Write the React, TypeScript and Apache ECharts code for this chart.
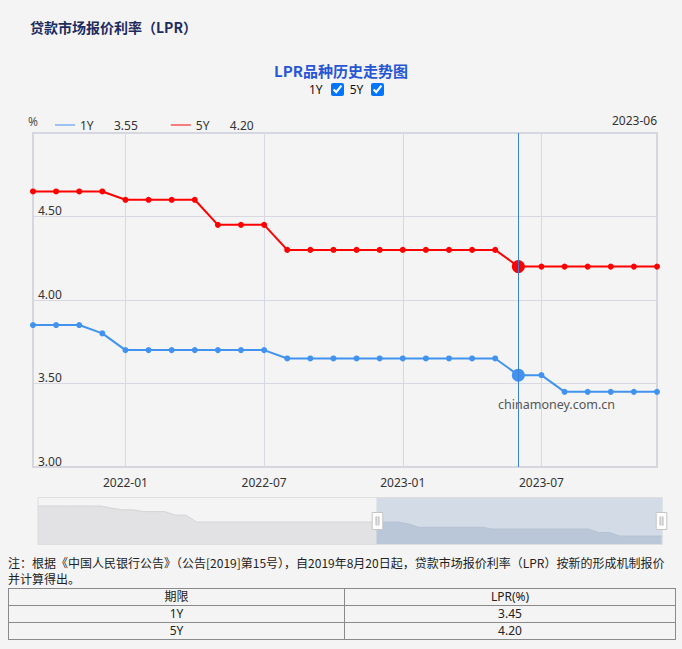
import React, { useEffect, useRef } from "react";
import * as echarts from "echarts";

const categories = [
  "2019-01", "2019-02", "2019-03", "2019-04", "2019-05", "2019-06", "2019-07", "2019-08", "2019-09", "2019-10", "2019-11", "2019-12",
  "2020-01", "2020-02", "2020-03", "2020-04", "2020-05", "2020-06", "2020-07", "2020-08", "2020-09", "2020-10", "2020-11", "2020-12",
  "2021-01", "2021-02", "2021-03", "2021-04", "2021-05", "2021-06", "2021-07", "2021-08", "2021-09", "2021-10", "2021-11", "2021-12",
  "2022-01", "2022-02", "2022-03", "2022-04", "2022-05", "2022-06", "2022-07", "2022-08", "2022-09", "2022-10", "2022-11", "2022-12",
  "2023-01", "2023-02", "2023-03", "2023-04", "2023-05", "2023-06", "2023-07", "2023-08", "2023-09", "2023-10", "2023-11", "2023-12",
];

const oneYear = [
  4.31, 4.31, 4.31, 4.31, 4.31, 4.31, 4.31, 4.25, 4.2, 4.2, 4.15, 4.15,
  4.15, 4.05, 4.05, 3.85, 3.85, 3.85, 3.85, 3.85, 3.85, 3.85, 3.85, 3.85,
  3.85, 3.85, 3.85, 3.85, 3.85, 3.85, 3.85, 3.85, 3.85, 3.85, 3.85, 3.8,
  3.7, 3.7, 3.7, 3.7, 3.7, 3.7, 3.7, 3.65, 3.65, 3.65, 3.65, 3.65,
  3.65, 3.65, 3.65, 3.65, 3.65, 3.55, 3.55, 3.45, 3.45, 3.45, 3.45, 3.45,
];

const fiveYear: (number | string)[] = [
  "-", "-", "-", "-", "-", "-", "-", 4.85, 4.85, 4.85, 4.8, 4.8,
  4.8, 4.75, 4.75, 4.65, 4.65, 4.65, 4.65, 4.65, 4.65, 4.65, 4.65, 4.65,
  4.65, 4.65, 4.65, 4.65, 4.65, 4.65, 4.65, 4.65, 4.65, 4.65, 4.65, 4.65,
  4.6, 4.6, 4.6, 4.6, 4.45, 4.45, 4.45, 4.3, 4.3, 4.3, 4.3, 4.3,
  4.3, 4.3, 4.3, 4.3, 4.3, 4.2, 4.2, 4.2, 4.2, 4.2, 4.2, 4.2,
];

const seriesNames = ["1Y", "5Y"];
const highlightMonth = "2023-06";
const windowStart = "2021-09";
const windowEnd = "2023-12";
const yMin = 3.0;
const yMax = 5.0;
const yStep = 0.5;

const tableHeader = ["期限", "LPR(%)"];
const tableRows = [
  ["1Y", "3.45"],
  ["5Y", "4.20"],
];

const noteLine1 = "注：根据《中国人民银行公告》（公告[2019]第15号），自2019年8月20日起，贷款市场报价利率（LPR）按新的形成机制报价";
const noteLine2 = "并计算得出。";

const BLUE = "#4193ef";
const RED = "#ff0000";
const FONT = "'Noto Sans', 'Noto Sans CJK SC', sans-serif";

export default function App() {
  const ref = useRef<HTMLDivElement>(null);

  useEffect(() => {
    if (!ref.current) return;
    const chart = echarts.init(ref.current, null, { renderer: "svg" });
    const hi = categories.indexOf(highlightMonth);
    const hiValues: Record<string, string> = {
      "1Y": Number(oneYear[hi]).toFixed(2),
      "5Y": Number(fiveYear[hi]).toFixed(2),
    };
    const mark = (arr: (number | string)[]) =>
      arr.map((v, i) => (i === hi ? { value: v, symbolSize: 13 } : v));

    chart.setOption({
      animation: false,
      backgroundColor: "transparent",
      textStyle: { fontFamily: FONT },
      title: {
        text: "LPR品种历史走势图",
        left: "center",
        top: 58,
        textStyle: { color: "#2656d4", fontSize: 15, fontWeight: "bold", fontFamily: "'Noto Sans CJK SC', sans-serif" },
      },
      legend: {
        left: 50,
        top: 114,
        icon: "rect",
        itemWidth: 20,
        itemHeight: 2,
        itemGap: 33,
        data: [
          { name: "1Y", itemStyle: { color: "#9cc3f2" } },
          { name: "5Y", itemStyle: { color: "#f77c7c" } },
        ],
        formatter: (name: string) => `{n|${name}}{v|${hiValues[name]}}`,
        textStyle: {
          color: "#333",
          fontSize: 12,
          rich: {
            n: { width: 34, fontSize: 12, color: "#333", fontFamily: FONT },
            v: { fontSize: 12, color: "#333", fontFamily: FONT },
          },
        },
      },
      graphic: [
        {
          type: "text",
          right: 25,
          top: 114,
          style: { text: highlightMonth, fontSize: 12, fill: "#333", fontFamily: FONT },
        },
        {
          type: "text",
          left: 498,
          top: 398,
          z: 1,
          style: { text: "chinamoney.com.cn", fontSize: 12.5, fill: "#555", fontFamily: FONT },
        },
      ],
      grid: {
        left: 33,
        right: 25,
        top: 133,
        bottom: 85,
        show: true,
        borderColor: "#d6d7de",
        borderWidth: 2,
        backgroundColor: "transparent",
      },
      xAxis: {
        type: "category",
        data: categories,
        boundaryGap: false,
        axisLine: { show: true, lineStyle: { color: "#d6d7de", width: 2 } },
        axisTick: { show: false },
        axisLabel: {
          color: "#333",
          fontSize: 12,
          margin: 9,
          interval: (_i: number, v: string) => v.endsWith("-01") || v.endsWith("-07"),
        },
        splitLine: {
          show: true,
          interval: (_i: number, v: string) => v.endsWith("-01") || v.endsWith("-07"),
          lineStyle: { color: "#d6d8e2", width: 1 },
        },
      },
      yAxis: {
        type: "value",
        min: yMin,
        max: yMax,
        interval: yStep,
        name: "%",
        nameLocation: "end",
        nameGap: 6,
        nameTextStyle: { color: "#555", fontSize: 12, align: "center" },
        axisLine: { show: true, lineStyle: { color: "#d6d7de", width: 2 } },
        axisTick: { show: false },
        axisLabel: {
          inside: true,
          margin: 5,
          color: "#333",
          fontSize: 12,
          verticalAlign: "bottom",
          showMaxLabel: false,
          formatter: (v: number) => v.toFixed(2),
        },
        splitLine: { show: true, lineStyle: { color: "#d6d8e2", width: 1 } },
      },
      dataZoom: [
        {
          type: "slider",
          xAxisIndex: 0,
          startValue: windowStart,
          endValue: windowEnd,
          filterMode: "filter",
          left: 35,
          right: 22,
          top: 497,
          height: 48,
          showDetail: false,
          brushSelect: false,
          moveHandleSize: 0,
          backgroundColor: "rgba(0,0,0,0)",
          borderColor: "#dedede",
          fillerColor: "rgba(165,185,210,0.42)",
          dataBackground: {
            lineStyle: { color: "#cfcfcf", width: 0.8 },
            areaStyle: { color: "#e2e2e4", opacity: 1 },
          },
          selectedDataBackground: {
            lineStyle: { color: "#bcc4d0", width: 0.8 },
            areaStyle: { color: "#cad1dc", opacity: 1 },
          },
          handleIcon: "path://M0,0H10V16H0Z M3.5,4H4.3V12H3.5Z M5.7,4H6.5V12H5.7Z",
          handleSize: 17,
          handleStyle: { color: "#fff", borderColor: "#c4c4c4", borderWidth: 1 },
        },
      ],
      series: [
        {
          name: "1Y",
          type: "line",
          data: mark(oneYear),
          symbol: "circle",
          symbolSize: 6,
          showSymbol: true,
          lineStyle: { color: BLUE, width: 2 },
          itemStyle: { color: BLUE },
          z: 3,
          markLine: {
            silent: true,
            symbol: ["none", "none"],
            label: { show: false },
            lineStyle: { color: "#3d7ed8", width: 1, type: "solid" },
            data: [{ xAxis: highlightMonth }],
          },
        },
        {
          name: "5Y",
          type: "line",
          data: mark(fiveYear),
          symbol: "circle",
          symbolSize: 6,
          showSymbol: true,
          lineStyle: { color: RED, width: 2 },
          itemStyle: { color: RED },
          z: 3,
        },
      ],
    });
    return () => chart.dispose();
  }, []);

  const cell: React.CSSProperties = {
    border: "1px solid #8a8a8a",
    textAlign: "center",
    height: 16,
    padding: 0,
    fontSize: 12,
    color: "#222",
    lineHeight: "16px",
  };

  const noteStyle: React.CSSProperties = {
    position: "absolute",
    left: 8,
    fontSize: 12,
    lineHeight: "15px",
    height: 15,
    color: "#222",
    whiteSpace: "nowrap",
    fontFamily: "'Noto Sans CJK SC', sans-serif",
  };

  return (
    <div
      style={{
        position: "relative",
        width: 682,
        height: 649,
        background: "#f4f4f4",
        fontFamily: FONT,
        overflow: "hidden",
      }}
    >
      <style>{`body{margin:0;background:#f4f4f4}`}</style>
      <div
        style={{
          position: "absolute",
          left: 30,
          top: 17,
          fontSize: 14,
          fontWeight: "bold",
          color: "#1d2c5e",
          fontFamily: "'Noto Sans CJK SC', sans-serif",
        }}
      >
        贷款市场报价利率（LPR）
      </div>
      <div ref={ref} style={{ position: "absolute", left: 0, top: 0, width: 682, height: 552 }} />
      <div
        style={{
          position: "absolute",
          left: 309,
          top: 81,
          display: "flex",
          alignItems: "center",
          fontSize: 12,
          color: "#111",
        }}
      >
        <span>{seriesNames[0]}</span>
        <input type="checkbox" defaultChecked style={{ margin: "0 6px 0 8px", width: 13, height: 13 }} />
        <span>{seriesNames[1]}</span>
        <input type="checkbox" defaultChecked style={{ margin: "0 0 0 8px", width: 13, height: 13 }} />
      </div>
      <div style={{ ...noteStyle, top: 555 }}>{noteLine1}</div>
      <div style={{ ...noteStyle, top: 571 }}>{noteLine2}</div>
      <table
        style={{
          position: "absolute",
          left: 8,
          top: 588,
          width: 668,
          borderCollapse: "collapse",
          fontFamily: FONT,
        }}
      >
        <tbody>
          <tr>
            <td style={{ ...cell, width: 335 }}>{tableHeader[0]}</td>
            <td style={cell}>{tableHeader[1]}</td>
          </tr>
          {tableRows.map((r) => (
            <tr key={r[0]}>
              <td style={cell}>{r[0]}</td>
              <td style={cell}>{r[1]}</td>
            </tr>
          ))}
        </tbody>
      </table>
    </div>
  );
}
